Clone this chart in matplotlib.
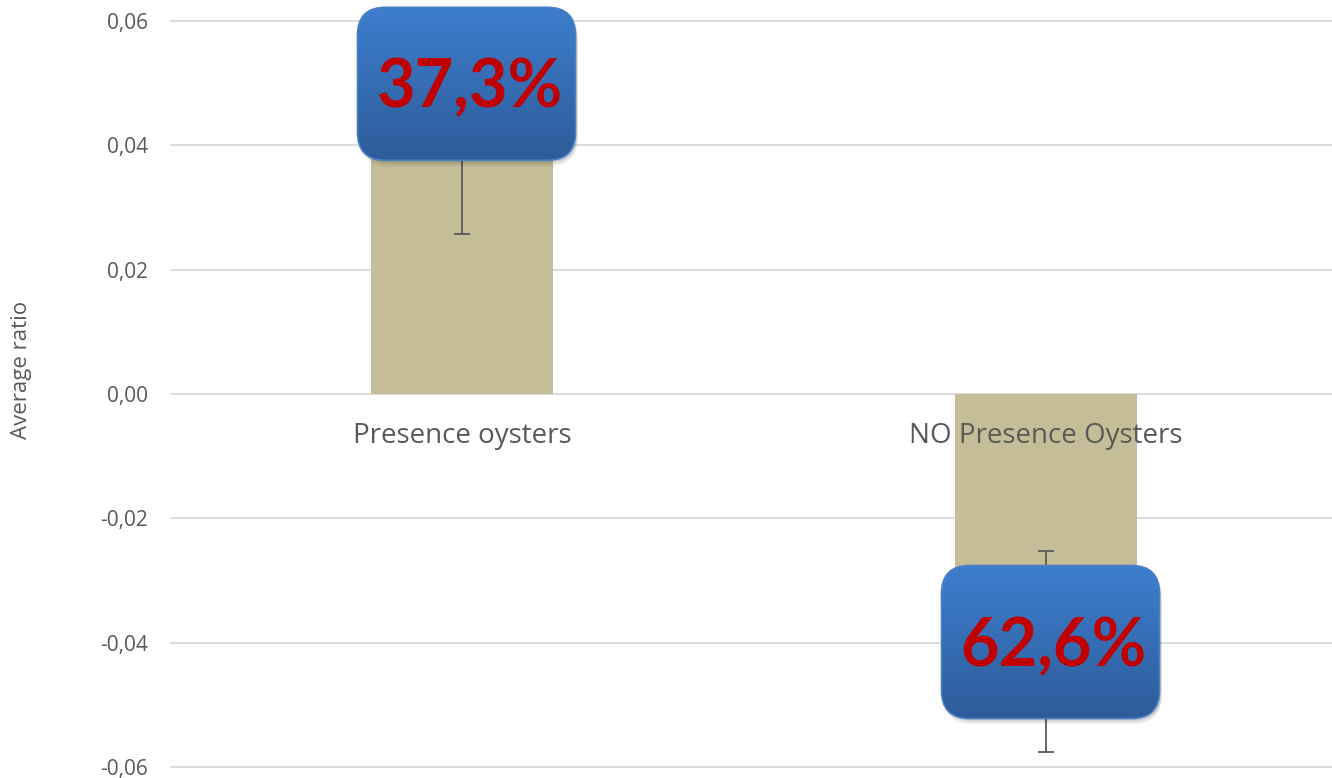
import numpy as np
import matplotlib
matplotlib.use("Agg")
import matplotlib.pyplot as plt
from matplotlib.patches import FancyBboxPatch
from matplotlib.ticker import FuncFormatter

# data
categories = ["Presence oysters", "NO Presence Oysters"]
means = [0.0415, -0.0414]
errors = [0.0158, 0.0162]
box_labels = ["37,3%", "62,6%"]
box_centers = [0.0499, -0.0399]   # y centre of each callout box

W, H = 1332, 778
py = (767 - 21) / 0.12  # pixels per y unit
px = 584.0  # pixels per x unit

fig = plt.figure(figsize=(W / 100, H / 100), dpi=100)
# axes span the full height so the callout boxes are not clipped at the top
ax = fig.add_axes([170 / W, 0, (1338 - 170) / W, 1])
ylo = -0.06 - (H - 767) / py
yhi = 0.06 + 21 / py

x = np.arange(len(categories))
ax.bar(x, means, width=0.313, color="#c4bd97", zorder=2)
ax.errorbar(x, means, yerr=errors, fmt="none", ecolor="#595959",
            elinewidth=1.3, capsize=6, capthick=1.3, zorder=3)

ax.set_yticks(np.arange(-0.06, 0.061, 0.02))
ax.yaxis.set_major_formatter(FuncFormatter(lambda v, p: f"{v:.2f}".replace(".", ",").replace("-0,00", "0,00")))
ax.grid(axis="y", color="#d9d9d9", linewidth=1.3, zorder=0)
ax.set_xticks([])
for s in ax.spines.values():
    s.set_visible(False)
ax.tick_params(axis="y", length=0, pad=16, labelsize=15, labelcolor="#595959")
for lab in ax.get_yticklabels():
    lab.set_fontfamily("Open Sans")
fig.text(22 / W, 1 - 370 / H, "Average ratio", rotation=90, ha="center", va="center",
         fontsize=16, color="#595959", family="Open Sans")

# category labels just under the zero line
for xi, name in zip(x, categories):
    ax.text(xi, -0.0068, name, ha="center", va="center", fontsize=20,
            color="#595959", family="Open Sans", zorder=4)

# callout boxes with gradient fill
bw, bh = 218, 153  # pixels
dx = 4.5 / px
grad = np.linspace(0, 1, 256).reshape(-1, 1)
top = np.array([0x3d, 0x7e, 0xcd]) / 255
bot = np.array([0x2e, 0x5c, 0x9a]) / 255
img = (top[None, None, :] * (1 - grad[:, :, None]) + bot[None, None, :] * grad[:, :, None])
for xi, yc, txt in zip(x, box_centers, box_labels):
    xc = xi + dx
    hw = bw / 2 / px
    hh = bh / 2 / py
    r = 28
    # soft shadow
    for k, a in [(6, 0.05), (4, 0.07), (2, 0.09)]:
        sh = FancyBboxPatch((xc - hw + 2 / px, yc - hh - k / py), 2 * hw, 2 * hh,
                            boxstyle=f"round,pad=0,rounding_size={r / px}",
                            mutation_aspect=px / py, facecolor="#000000", alpha=a,
                            edgecolor="none", zorder=5)
        ax.add_patch(sh)
    patch = FancyBboxPatch((xc - hw, yc - hh), 2 * hw, 2 * hh,
                           boxstyle=f"round,pad=0,rounding_size={r / px}",
                           mutation_aspect=px / py, facecolor="none",
                           edgecolor="#4a7fc4", linewidth=1.2, zorder=7)
    ax.add_patch(patch)
    im = ax.imshow(img, extent=(xc - hw, xc + hw, yc - hh, yc + hh),
                   aspect="auto", zorder=6, interpolation="bilinear")
    im.set_clip_path(patch)
    ax.text(xc + 3 / px, yc - 0.0008, txt, ha="center", va="center", fontsize=48,
            fontweight="bold", color="#c00000", family="Lato", zorder=8)

ax.set_xlim(-0.5, 1.5)
ax.set_ylim(ylo, yhi)
fig.savefig("out.png", dpi=100)
